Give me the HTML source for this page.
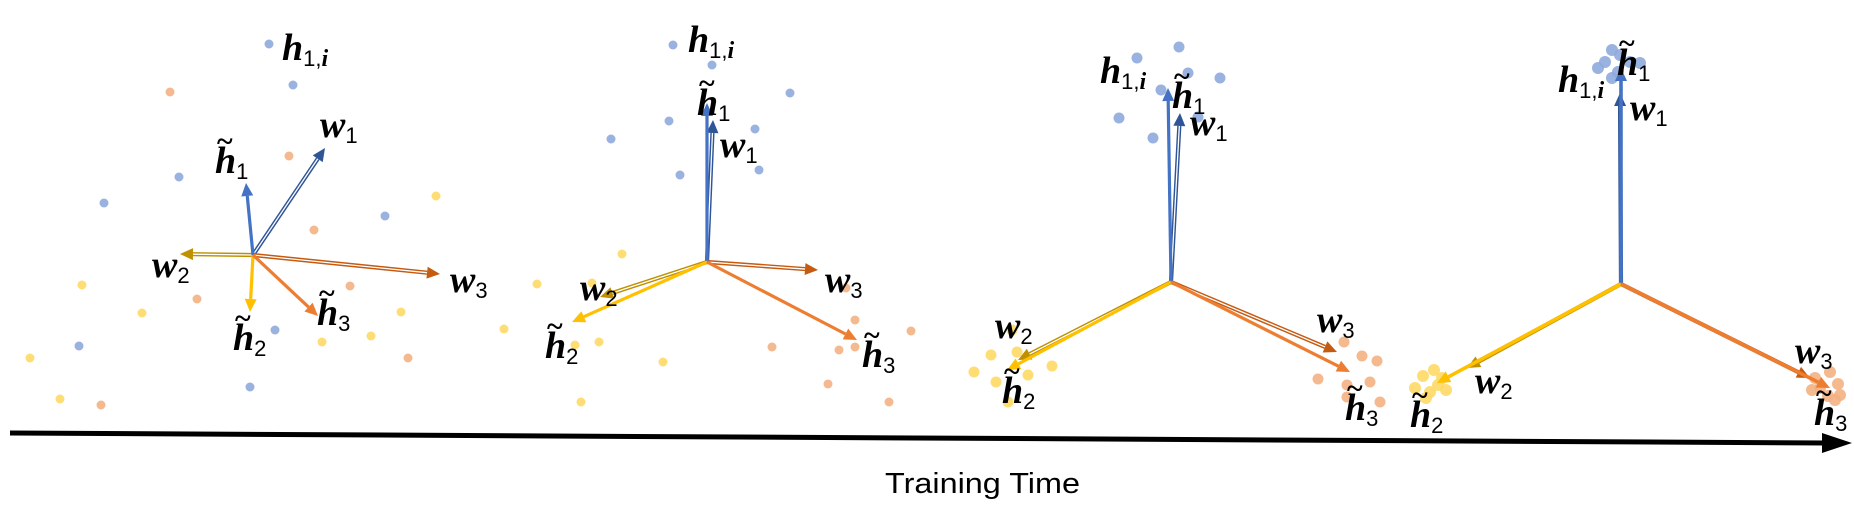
<!DOCTYPE html>
<html><head><meta charset="utf-8"><style>
html,body{margin:0;padding:0;background:#fff;width:1854px;height:508px;overflow:hidden}
svg{display:block}
.m{font-family:"Liberation Serif",serif;font-style:italic;font-weight:bold;font-size:38px;fill:#000}
.s{font-style:normal;font-weight:normal;font-size:22px;font-family:"Liberation Sans",sans-serif}
.it{font-style:italic;font-family:"Liberation Serif",serif;font-size:24px}
</style></head><body>
<svg id="fig" width="1854" height="508" viewBox="0 0 1854 508" xmlns="http://www.w3.org/2000/svg">
<g id="dots"></g>
<g id="arrows"></g>
<g id="labels"></g>
<line x1="10" y1="433" x2="1826" y2="443" stroke="#000" stroke-width="5"/>
<text x="885" y="493" textLength="195" lengthAdjust="spacingAndGlyphs" font-family="Liberation Sans, sans-serif" font-size="29" fill="#000">Training Time</text>
</svg>
<script>
// panel origins
const origins = [[253,255],[707,262],[1171,282],[1621,284]];
// class-mean tips (h~1,h~2,h~3)
const hTips = [
 [[246,183],[250,312],[318,316]],
 [[707,103],[572,322],[857,340]],
 [[1168,88],[1007,370],[1350,372]],
 [[1621,68],[1437,383],[1830,388]]];
// classifier tips (w1,w2,w3)
const wTips = [
 [[325,148],[180,254],[440,274]],
 [[713,120],[600,297],[818,270]],
 [[1180,113],[1018,360],[1337,352]],
 [[1620,93],[1467,368],[1810,378]]];
// points: [x,y,class]
const pts = [
 [[269,44,0],[293,85,0],[179,177,0],[104,203,0],[385,216,0],[79,346,0],[275,330,0],[250,387,0],
  [170,92,2],[289,156,2],[314,230,2],[350,286,2],[197,299,2],[408,358,2],[101,405,2],
  [436,196,1],[82,285,1],[142,313,1],[401,312,1],[371,336,1],[322,342,1],[30,358,1],[60,399,1]],
 [[673,45,0],[712,65,0],[790,93,0],[669,121,0],[611,139,0],[755,129,0],[680,175,0],[759,170,0],
  [622,254,1],[537,284,1],[504,329,1],[575,345,1],[599,342,1],[663,362,1],[581,402,1],[592,283,1],
  [772,347,2],[855,320,2],[911,331,2],[839,350,2],[855,347,2],[828,384,2],[889,402,2],[846,288,2]],
 [[1179,47,0],[1188,73,0],[1220,78,0],[1161,90,0],[1153,138,0],[1198,117,0],[1137,58,0],[1119,118,0],
  [991,355,1],[1017,352,1],[974,372,1],[996,382,1],[1028,375,1],[1052,366,1],[1008,402,1],[1012,330,1],
  [1344,342,2],[1362,356,2],[1377,361,2],[1318,379,2],[1347,385,2],[1370,382,2],[1347,397,2],[1380,402,2]],
 [[1612,50,0],[1605,62,0],[1598,68,0],[1620,55,0],[1630,62,0],[1640,63,0],[1612,78,0],[1618,72,0],
  [1423,376,1],[1434,370,1],[1442,378,1],[1415,388,1],[1430,392,1],[1446,390,1],[1426,398,1],[1438,385,1],
  [1815,378,2],[1830,372,2],[1838,384,2],[1812,390,2],[1828,396,2],[1840,395,2],[1820,388,2],[1835,400,2]]];
// label anchors: [type, classIdx, x, y]
const labelPos = [
 [["hi",0,282,60],["h",0,215,173],["w",0,320,137],["w",1,152,277],["h",1,233,350],["w",2,450,292],["h",2,317,325]],
 [["hi",0,688,52],["h",0,697,115],["w",0,720,157],["w",1,580,300],["h",1,545,358],["w",2,825,292],["h",2,862,367]],
 [["hi",0,1100,83],["h",0,1172,108],["w",0,1190,135],["w",1,995,338],["h",1,1002,403],["w",2,1317,332],["h",2,1345,420]],
 [["hi",0,1558,92],["h",0,1617,75],["w",0,1630,120],["w",1,1475,393],["h",1,1410,427],["w",2,1795,363],["h",2,1814,425]]];

const NS="http://www.w3.org/2000/svg";
const dotCol=["#8faadc","#ffd966","#f4b183"];
const hCol=["#4472c4","#ffc000","#ed7d31"];
const wCol=["#2f5597","#bf9000","#c55a11"];
const radius=[4.5,4.5,5.5,6];
const gD=document.getElementById('dots'),gA=document.getElementById('arrows'),gL=document.getElementById('labels');
function mk(tag,attrs,parent){const e=document.createElementNS(NS,tag);for(const k in attrs)e.setAttribute(k,attrs[k]);parent.appendChild(e);return e;}
pts.forEach((pp,pi)=>pp.forEach(p=>{
  const c=mk('circle',{cx:p[0],cy:p[1],r:radius[pi],fill:dotCol[p[2]],opacity:0.9},gD);
  
  
}));
function arrow(o,t,col,w,dbl,name){
  const dx=t[0]-o[0],dy=t[1]-o[1],L=Math.hypot(dx,dy),ux=dx/L,uy=dy/L,hl=13,hw=6;
  const bx=t[0]-ux*hl,by=t[1]-uy*hl;
  const g=mk('g',{},gA);
  
  
  mk('line',{x1:o[0],y1:o[1],x2:bx,y2:by,stroke:col,'stroke-width':w},g);
  if(dbl) mk('line',{x1:o[0],y1:o[1],x2:bx,y2:by,stroke:'#fff','stroke-width':1.3},g);
  mk('polygon',{points:`${t[0]},${t[1]} ${bx-uy*hw},${by+ux*hw} ${bx+uy*hw},${by-ux*hw}`,fill:col},g);
}
origins.forEach((o,pi)=>{
  for(let k=0;k<3;k++){
    arrow(o,wTips[pi][k],wCol[k],4.2,true,'classifier-w'+(k+1));
  }
  for(let k=0;k<3;k++){
    arrow(o,hTips[pi][k],hCol[k],pi===3?3.6:3.2,false,'mean-vector-h'+(k+1));
  }
});
labelPos.forEach(pl=>pl.forEach(l=>{
  const [type,k,x,y]=l;
  const t=mk('text',{x:x,y:y,class:'m'},gL);
  
  
  t.textContent=type==='w'?'w':'h';
  const s=mk('tspan',{class:'s',dy:6},t);
  s.textContent=type==='hi'?'1,':String(k+1);
  if(type==='hi'){const s2=mk('tspan',{class:'it'},t);s2.textContent='i';}
  if(type==='h'){
    const tl=mk('text',{x:x+2,y:y-22,'font-family':'Liberation Serif, serif','font-size':'30','font-weight':'bold',fill:'#000'},gL);
    
    
    tl.textContent='~';
  }
}));
const ah=mk('polygon',{points:'1852,443 1822,433 1822,453',fill:'#000'},document.getElementById('fig'));


</script>
</body></html>
